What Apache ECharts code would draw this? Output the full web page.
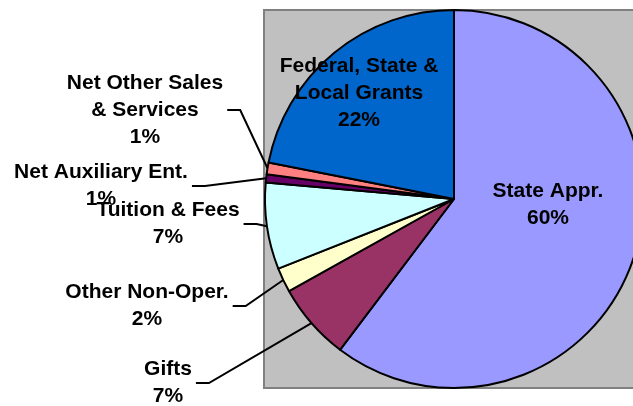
<!DOCTYPE html>
<html>
<head>
<meta charset="utf-8">
<script src="https://cdn.jsdelivr.net/npm/echarts@6/dist/echarts.min.js"></script>
<style>
  html, body { margin: 0; padding: 0; background: #fff; }
  #chart { width: 633px; height: 406px; }
</style>
</head>
<body>
<div id="chart"></div>
<script>
// slices, clockwise from 12 o'clock
const names = [
  'State Appr.',
  'Gifts',
  'Other Non-Oper.',
  'Tuition & Fees',
  'Net Auxiliary Ent.',
  'Net Other Sales\n& Services',
  'Federal, State &\nLocal Grants'
];
const shares = [60.3, 6.6, 2.1, 7.4, 0.7, 1.0, 21.9];
const colors = ['#9999FF', '#993366', '#FFFFCC', '#CCFFFF', '#660066', '#FF8080', '#0066CC'];
const inside = [true, false, false, false, false, false, true];

// where each label block sits (center), picked to match the original layout
const labelPos = [
  [548, 205],
  [168, 383],
  [147, 306],
  [168, 224],
  [101, 186],
  [145, 110],
  [359, 93]
];

var chartDom = document.getElementById('chart');
var myChart = echarts.init(chartDom);

const pieData = names.map((n, i) => ({
  name: n,
  value: shares[i],
  itemStyle: { color: colors[i] },
  label: { position: inside[i] ? 'inside' : 'outside' },
  labelLine: { show: !inside[i] }
}));

var option = {
  animation: false,
  graphic: [
    {
      type: 'rect',
      z: -10,
      shape: { x: 264, y: 10, width: 390, height: 378 },
      style: { fill: '#C0C0C0', stroke: '#808080', lineWidth: 2 }
    }
  ],
  series: [
    {
      type: 'pie',
      center: [454, 199],
      radius: [0, 189],
      startAngle: 90,
      clockwise: true,
      avoidLabelOverlap: false,
      emphasis: { disabled: true },
      itemStyle: { borderColor: '#000', borderWidth: 2 },
      label: {
        show: true,
        color: '#000',
        fontFamily: 'Liberation Sans, Arial, sans-serif',
        fontWeight: 'bold',
        fontSize: 21,
        lineHeight: 27,
        formatter: (p) => p.name + '\n' + Math.round(p.percent) + '%'
      },
      labelLine: {
        show: true,
        smooth: false,
        length: 10,
        length2: 10,
        lineStyle: { color: '#000', width: 2 }
      },
      labelLayout: function (params) {
        const i = params.dataIndex;
        const [cx, cy] = labelPos[i];
        const res = { x: cx, y: cy, align: 'center', verticalAlign: 'middle' };
        if (!inside[i] && params.labelLinePoints) {
          const half = params.labelRect.width / 2;
          const endX = cx + half + 4;
          res.labelLinePoints = [
            params.labelLinePoints[0],
            [endX + 13, cy],
            [endX, cy]
          ];
        }
        return res;
      },
      data: pieData
    }
  ]
};

myChart.setOption(option);
</script>
</body>
</html>
